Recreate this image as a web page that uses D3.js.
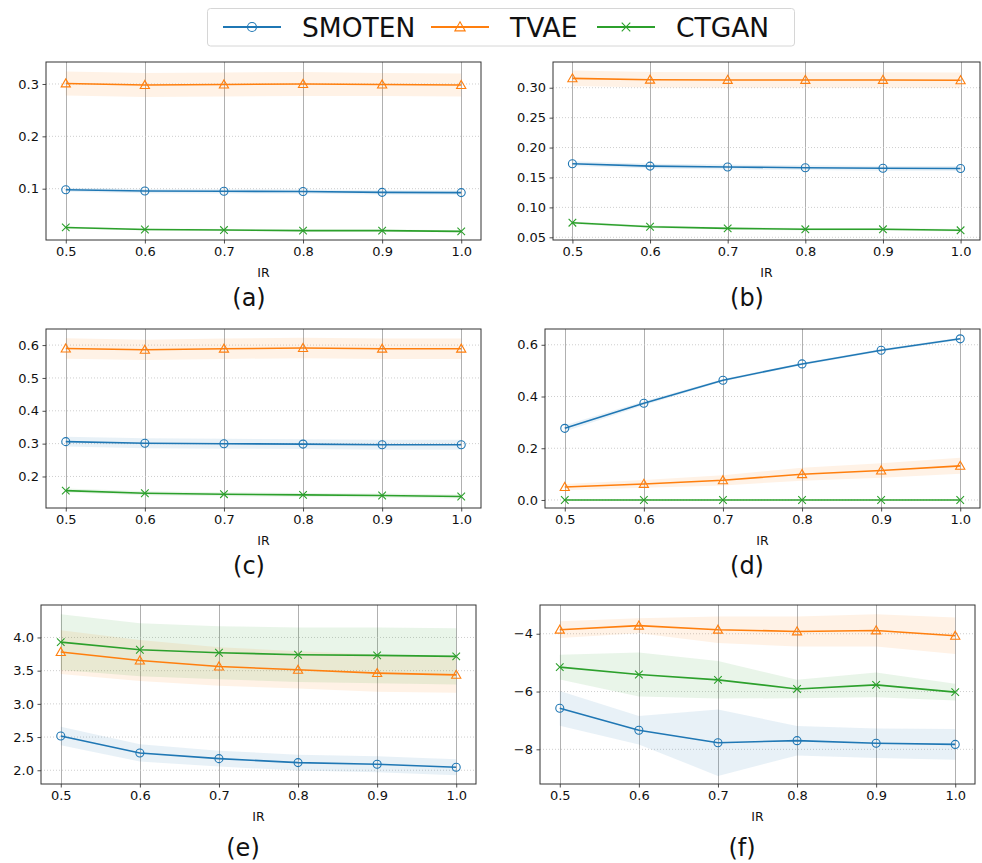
<!DOCTYPE html>
<html>
<head>
<meta charset="utf-8">
<script src="https://cdn.jsdelivr.net/npm/d3@7"></script>
<style>
  html, body { margin: 0; padding: 0; background: #fff; }
  svg { display: block; font-family: "DejaVu Sans", sans-serif; }
</style>
</head>
<body>
<svg id="fig" width="982" height="863"></svg>
<script>
// Imbalance ratios on the x axis of every panel
const irValues = [0.5, 0.6, 0.7, 0.8, 0.9, 1.0];
const xTickLabels = ["0.5", "0.6", "0.7", "0.8", "0.9", "1.0"];
const methods = ["SMOTEN", "TVAE", "CTGAN"];
const panelNames = ["(a)", "(b)", "(c)", "(d)", "(e)", "(f)"];

// Mean and standard deviation per panel, per method (SMOTEN, TVAE, CTGAN)
const meanA = [
  [0.098, 0.0955, 0.095, 0.0945, 0.093, 0.0925],
  [0.301, 0.298, 0.299, 0.300, 0.299, 0.298],
  [0.026, 0.022, 0.021, 0.020, 0.020, 0.0185]
];
const stdA = [
  [0.004, 0.004, 0.004, 0.004, 0.004, 0.004],
  [0.023, 0.023, 0.023, 0.023, 0.022, 0.022],
  [0.002, 0.002, 0.002, 0.002, 0.002, 0.002]
];
const meanB = [
  [0.173, 0.169, 0.1675, 0.1663, 0.1653, 0.165],
  [0.3157, 0.3134, 0.313, 0.313, 0.313, 0.3125],
  [0.0744, 0.0677, 0.065, 0.0634, 0.0634, 0.0617]
];
const stdB = [
  [0.004, 0.004, 0.004, 0.004, 0.004, 0.004],
  [0.013, 0.013, 0.013, 0.013, 0.013, 0.013],
  [0.002, 0.002, 0.002, 0.002, 0.002, 0.002]
];
const meanC = [
  [0.306, 0.301, 0.2996, 0.2986, 0.2966, 0.2966],
  [0.5896, 0.5856, 0.589, 0.591, 0.589, 0.589],
  [0.157, 0.149, 0.146, 0.144, 0.142, 0.139]
];
const stdC = [
  [0.015, 0.015, 0.015, 0.015, 0.015, 0.015],
  [0.031, 0.031, 0.031, 0.031, 0.031, 0.031],
  [0.006, 0.006, 0.006, 0.006, 0.006, 0.006]
];
const meanD = [
  [0.277, 0.374, 0.463, 0.526, 0.579, 0.623],
  [0.050, 0.062, 0.076, 0.0997, 0.114, 0.132],
  [0.0, 0.0, 0.0, 0.0, 0.0, 0.0]
];
const stdD = [
  [0.012, 0.008, 0.005, 0.005, 0.005, 0.005],
  [0.012, 0.015, 0.02, 0.025, 0.028, 0.031],
  [0.0, 0.0, 0.0, 0.0, 0.0, 0.0]
];
const meanE = [
  [2.517, 2.261, 2.175, 2.115, 2.09, 2.045],
  [3.78, 3.653, 3.563, 3.513, 3.463, 3.437],
  [3.93, 3.815, 3.77, 3.74, 3.73, 3.715]
];
const stdE = [
  [0.14, 0.13, 0.12, 0.12, 0.12, 0.12],
  [0.33, 0.31, 0.29, 0.28, 0.28, 0.27],
  [0.42, 0.40, 0.40, 0.41, 0.42, 0.425]
];
const meanF = [
  [-6.58, -7.34, -7.77, -7.70, -7.79, -7.83],
  [-3.86, -3.72, -3.86, -3.92, -3.885, -4.07],
  [-5.155, -5.41, -5.595, -5.91, -5.77, -6.02]
];
const stdF = [
  [0.6, 0.49, 1.15, 0.51, 0.51, 0.53],
  [0.29, 0.26, 0.46, 0.52, 0.56, 0.63],
  [0.43, 0.76, 0.65, 0.32, 0.43, 0.29]
];

// Y tick values and their labels per panel
const yTicksA = [0.1, 0.2, 0.3];
const yLabelsA = ["0.1", "0.2", "0.3"];
const yTicksB = [0.05, 0.10, 0.15, 0.20, 0.25, 0.30];
const yLabelsB = ["0.05", "0.10", "0.15", "0.20", "0.25", "0.30"];
const yTicksC = [0.2, 0.3, 0.4, 0.5, 0.6];
const yLabelsC = ["0.2", "0.3", "0.4", "0.5", "0.6"];
const yTicksD = [0.0, 0.2, 0.4, 0.6];
const yLabelsD = ["0.0", "0.2", "0.4", "0.6"];
const yTicksE = [2.0, 2.5, 3.0, 3.5, 4.0];
const yLabelsE = ["2.0", "2.5", "3.0", "3.5", "4.0"];
const yTicksF = [-8, -6, -4];
const yLabelsF = ["\u22128", "\u22126", "\u22124"];

const colors = ["#1f77b4", "#ff7f0e", "#2ca02c"];
const markers = ["circle", "triangle", "cross"];

// Subplot frames and label placement
const panels = [
  { mean: meanA, std: stdA, ticks: yTicksA, labels: yLabelsA, yDom: [0.002, 0.342],
    box: { x0: 46, x1: 481, y0: 62, y1: 240 }, cap: { x: 249, y: 306 } },
  { mean: meanB, std: stdB, ticks: yTicksB, labels: yLabelsB, yDom: [0.0455, 0.343],
    box: { x0: 553, x1: 980, y0: 62, y1: 240 }, cap: { x: 747, y: 306 } },
  { mean: meanC, std: stdC, ticks: yTicksC, labels: yLabelsC, yDom: [0.104, 0.649],
    box: { x0: 46, x1: 481, y0: 329, y1: 508 }, cap: { x: 249, y: 574 } },
  { mean: meanD, std: stdD, ticks: yTicksD, labels: yLabelsD, yDom: [-0.031, 0.661],
    box: { x0: 545, x1: 980, y0: 329, y1: 508 }, cap: { x: 747, y: 574 } },
  { mean: meanE, std: stdE, ticks: yTicksE, labels: yLabelsE, yDom: [1.793, 4.489],
    box: { x0: 41, x1: 476, y0: 605, y1: 784 }, cap: { x: 243, y: 856 } },
  { mean: meanF, std: stdF, ticks: yTicksF, labels: yLabelsF, yDom: [-9.2, -3.005],
    box: { x0: 540, x1: 975, y0: 605, y1: 784 }, cap: { x: 742, y: 856 } }
];

const svg = d3.select("#fig");

function drawMarker(g, type, cx, cy, color, s) {
  if (type === "circle") {
    g.append("circle").attr("cx", cx).attr("cy", cy).attr("r", s)
      .attr("fill", "none").attr("stroke", color).attr("stroke-width", 1.1);
  } else if (type === "triangle") {
    const h = s * 1.15;
    g.append("path")
      .attr("d", `M${cx},${cy - h}L${cx + h},${cy + h * 0.75}L${cx - h},${cy + h * 0.75}Z`)
      .attr("fill", "none").attr("stroke", color).attr("stroke-width", 1.1)
      .attr("stroke-linejoin", "miter");
  } else {
    const h = s * 0.95;
    g.append("path")
      .attr("d", `M${cx - h},${cy - h}L${cx + h},${cy + h}M${cx - h},${cy + h}L${cx + h},${cy - h}`)
      .attr("stroke", color).attr("stroke-width", 1.1);
  }
}

panels.forEach((p, pi) => {
  const b = p.box;
  const x = d3.scaleLinear().domain([0.475, 1.025]).range([b.x0, b.x1]);
  const y = d3.scaleLinear().domain(p.yDom).range([b.y1, b.y0]);
  const g = svg.append("g");

  // grid: solid vertical lines, dotted horizontal lines
  g.append("g").selectAll("line").data(irValues).join("line")
    .attr("x1", d => Math.round(x(d)) + 0.5).attr("x2", d => Math.round(x(d)) + 0.5)
    .attr("y1", b.y0).attr("y2", b.y1)
    .attr("stroke", "#b0b0b0").attr("stroke-width", 1);
  g.append("g").selectAll("line").data(p.ticks).join("line")
    .attr("x1", b.x0).attr("x2", b.x1)
    .attr("y1", d => y(d)).attr("y2", d => y(d))
    .attr("stroke", "#c8c8c8").attr("stroke-width", 0.9)
    .attr("stroke-dasharray", "1,2");

  // spread bands, then mean lines with markers
  methods.forEach((m, si) => {
    const pts = irValues.map((v, i) => ({ v, m: p.mean[si][i], s: p.std[si][i] }));
    const area = d3.area().x(d => x(d.v)).y0(d => y(d.m - d.s)).y1(d => y(d.m + d.s));
    g.append("path").datum(pts).attr("d", area)
      .attr("fill", colors[si]).attr("fill-opacity", 0.1).attr("stroke", "none");
  });
  methods.forEach((m, si) => {
    const pts = irValues.map((v, i) => ({ v, m: p.mean[si][i] }));
    const line = d3.line().x(d => x(d.v)).y(d => y(d.m));
    g.append("path").datum(pts).attr("d", line)
      .attr("fill", "none").attr("stroke", colors[si]).attr("stroke-width", 1.6);
    pts.forEach(d => drawMarker(g, markers[si], x(d.v), y(d.m), colors[si], 4));
  });

  // axes
  const xAxis = d3.axisBottom(x).tickValues(irValues)
    .tickFormat((d, i) => xTickLabels[i]).tickSize(3.5).tickPadding(3.5);
  const yAxis = d3.axisLeft(y).tickValues(p.ticks)
    .tickFormat((d, i) => p.labels[i]).tickSize(3.5).tickPadding(3.5);
  const gx = g.append("g").attr("transform", `translate(0,${b.y1})`).call(xAxis);
  const gy = g.append("g").attr("transform", `translate(${b.x0},0)`).call(yAxis);
  [gx, gy].forEach(a => {
    a.select(".domain").remove();
    a.selectAll("line").attr("stroke", "#222").attr("stroke-width", 0.8);
    a.selectAll("text").attr("fill", "#111").style("font-size", "13px")
      .style("font-family", "DejaVu Sans, sans-serif");
  });

  // frame
  g.append("rect").attr("x", b.x0).attr("y", b.y0)
    .attr("width", b.x1 - b.x0).attr("height", b.y1 - b.y0)
    .attr("fill", "none").attr("stroke", "#333").attr("stroke-width", 1);

  // axis title and panel caption
  g.append("text").attr("x", (b.x0 + b.x1) / 2).attr("y", b.y1 + 36.5)
    .attr("text-anchor", "middle").style("font-size", "12.5px").attr("fill", "#111")
    .text("IR");
  g.append("text").attr("x", p.cap.x).attr("y", p.cap.y)
    .attr("text-anchor", "middle").style("font-size", "24px").attr("fill", "#111")
    .text(panelNames[pi]);
});

// shared legend
const leg = svg.append("g");
leg.append("rect").attr("x", 207.5).attr("y", 8.5).attr("width", 587).attr("height", 37.5)
  .attr("rx", 3).attr("fill", "#fff").attr("fill-opacity", 0.8)
  .attr("stroke", "#d6d6d6").attr("stroke-width", 1);
const legendX = [223, 431, 597];
methods.forEach((m, si) => {
  const lx = legendX[si];
  leg.append("line").attr("x1", lx).attr("x2", lx + 58).attr("y1", 27).attr("y2", 27)
    .attr("stroke", colors[si]).attr("stroke-width", 2);
  drawMarker(leg, markers[si], lx + 29, 27, colors[si], 4.5);
  leg.append("text").attr("x", lx + 79).attr("y", 36.5)
    .style("font-size", "26.5px").attr("fill", "#111").text(m);
});
</script>
</body>
</html>
